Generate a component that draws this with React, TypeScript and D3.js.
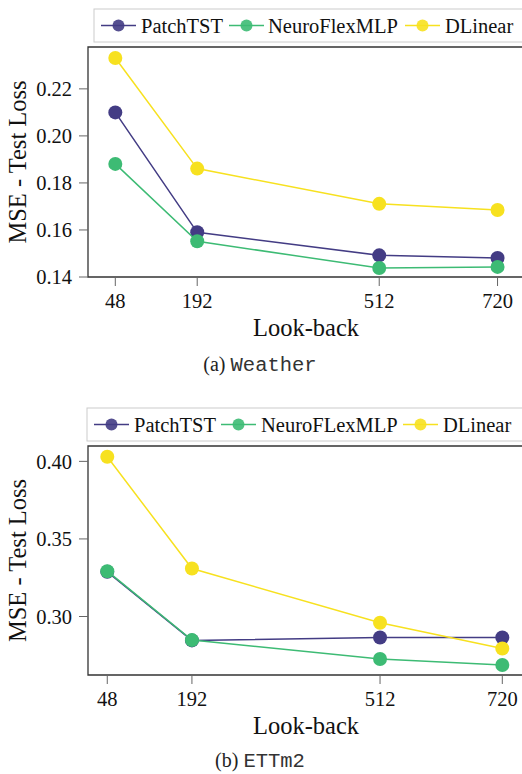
import * as d3 from "d3";

const lookBack = [48, 192, 512, 720];

const seriesNames = ["PatchTST", "NeuroFlexMLP", "DLinear"];
const seriesNamesB = ["PatchTST", "NeuroFLexMLP", "DLinear"];
const colors = ["#433C84", "#3DBB74", "#F7E11F"];

// (a) Weather
const weatherPatchTST = [0.21, 0.159, 0.1492, 0.1481];
const weatherNeuroFlex = [0.1881, 0.1552, 0.1438, 0.1443];
const weatherDLinear = [0.2331, 0.1861, 0.1711, 0.1685];
const weatherTicks = [0.14, 0.16, 0.18, 0.2, 0.22];

// (b) ETTm2
const ettPatchTST = [0.3288, 0.2846, 0.2865, 0.2865];
const ettNeuroFlex = [0.3292, 0.2848, 0.2726, 0.2687];
const ettDLinear = [0.403, 0.3309, 0.296, 0.2794];
const ettTicks = [0.3, 0.35, 0.4];

const SERIF = "'Liberation Serif', 'Times New Roman', serif";
const MONO = "'Liberation Mono', 'Courier New', monospace";

function Chart(props: {
  plotTop: number;
  plotBottom: number;
  names: string[];
  values: number[][];
  xDomain: [number, number];
  yDomain: [number, number];
  yTicks: number[];
  legendTop: number;
  legendLeft: number;
  legendLines: number[];
  legendTexts: number[];
  caption: string;
  captionName: string;
  captionY: number;
  tickFmt: (v: number) => string;
}) {
  const left = 88;
  const right = 522;
  const x = d3.scaleLinear().domain(props.xDomain).range([left, right]);
  const y = d3.scaleLinear().domain(props.yDomain).range([props.plotBottom, props.plotTop]);
  const line = d3
    .line<number>()
    .x((_, i) => x(lookBack[i]))
    .y((d) => y(d));
  const legendH = 33;
  const legendCy = props.legendTop + legendH / 2;
  const midY = (props.plotTop + props.plotBottom) / 2;
  return (
    <g>
      {/* legend */}
      <rect
        x={props.legendLeft}
        y={props.legendTop}
        width={right - props.legendLeft + 2}
        height={legendH}
        fill="white"
        stroke="#cccccc"
        strokeWidth={1}
      />
      {props.names.map((n, i) => (
        <g key={n}>
          <line
            x1={props.legendLines[i]}
            x2={props.legendLines[i] + 35}
            y1={legendCy}
            y2={legendCy}
            stroke={colors[i]}
            strokeWidth={1.5}
          />
          <circle cx={props.legendLines[i] + 17.5} cy={legendCy} r={6} fill={colors[i]} opacity={0.9} />
          <text
            x={props.legendTexts[i]}
            y={legendCy}
            dy="0.35em"
            fontFamily={SERIF}
            fontSize={20.5}
            fill="#111"
          >
            {n}
          </text>
        </g>
      ))}
      {/* frame */}
      <path
        d={`M${right + 2},${props.plotTop}H${left}V${props.plotBottom}H${right + 2}`}
        fill="none"
        stroke="#333"
        strokeWidth={1.3}
      />
      {/* y ticks */}
      {props.yTicks.map((t) => (
        <g key={t}>
          <line x1={left - 9} x2={left} y1={y(t)} y2={y(t)} stroke="#666" strokeWidth={1} />
          <text
            x={left - 16}
            y={y(t)}
            dy="0.35em"
            textAnchor="end"
            fontFamily={SERIF}
            fontSize={20.5}
            fill="#111"
          >
            {props.tickFmt(t)}
          </text>
        </g>
      ))}
      {/* x ticks */}
      {lookBack.map((t) => (
        <g key={t}>
          <line
            x1={x(t)}
            x2={x(t)}
            y1={props.plotBottom}
            y2={props.plotBottom + 9}
            stroke="#666"
            strokeWidth={1}
          />
          <text
            x={x(t)}
            y={props.plotBottom + 31}
            textAnchor="middle"
            fontFamily={SERIF}
            fontSize={20.5}
            fill="#111"
          >
            {t}
          </text>
        </g>
      ))}
      {/* axis labels */}
      <text
        x={306}
        y={props.plotBottom + 59}
        textAnchor="middle"
        fontFamily={SERIF}
        fontSize={24.5}
        fill="#111"
      >
        Look-back
      </text>
      <text
        transform={`translate(26,${midY}) rotate(-90)`}
        textAnchor="middle"
        fontFamily={SERIF}
        fontSize={24.5}
        fill="#111"
      >
        MSE - Test Loss
      </text>
      {/* series */}
      {props.values.map((vals, i) => (
        <g key={i}>
          <path d={line(vals) ?? ""} fill="none" stroke={colors[i]} strokeWidth={1.5} />
          {vals.map((v, j) => (
            <circle key={j} cx={x(lookBack[j])} cy={y(v)} r={7} fill={colors[i]} />
          ))}
        </g>
      ))}
      {/* caption */}
      <text x={260} y={props.captionY} textAnchor="middle" fill="#222" fontSize={20}>
        <tspan fontFamily={SERIF}>{props.caption} </tspan>
        <tspan fontFamily={MONO} fontSize={20.5} fill="#333">
          {props.captionName}
        </tspan>
      </text>
    </g>
  );
}

export default function App() {
  const fmt2 = d3.format(".2f");
  return (
    <svg
      width={522}
      height={774}
      style={{ position: "absolute", left: 0, top: 0, background: "white" }}
    >
      <Chart
        plotTop={47}
        plotBottom={277}
        names={seriesNames}
        values={[weatherPatchTST, weatherNeuroFlex, weatherDLinear]}
        xDomain={[0, 763]}
        yDomain={[0.14, 0.2378]}
        yTicks={weatherTicks}
        legendTop={9}
        legendLeft={94}
        legendLines={[101, 229, 405]}
        legendTexts={[141, 268, 445]}
        caption="(a)"
        captionName="Weather"
        captionY={371}
        tickFmt={fmt2}
      />
      <Chart
        plotTop={446}
        plotBottom={675}
        names={seriesNamesB}
        values={[ettPatchTST, ettNeuroFlex, ettDLinear]}
        xDomain={[15.2, 753.5]}
        yDomain={[0.2623, 0.4099]}
        yTicks={ettTicks}
        legendTop={408}
        legendLeft={87}
        legendLines={[94, 221, 403]}
        legendTexts={[134, 261, 443]}
        caption="(b)"
        captionName="ETTm2"
        captionY={767}
        tickFmt={fmt2}
      />
    </svg>
  );
}
